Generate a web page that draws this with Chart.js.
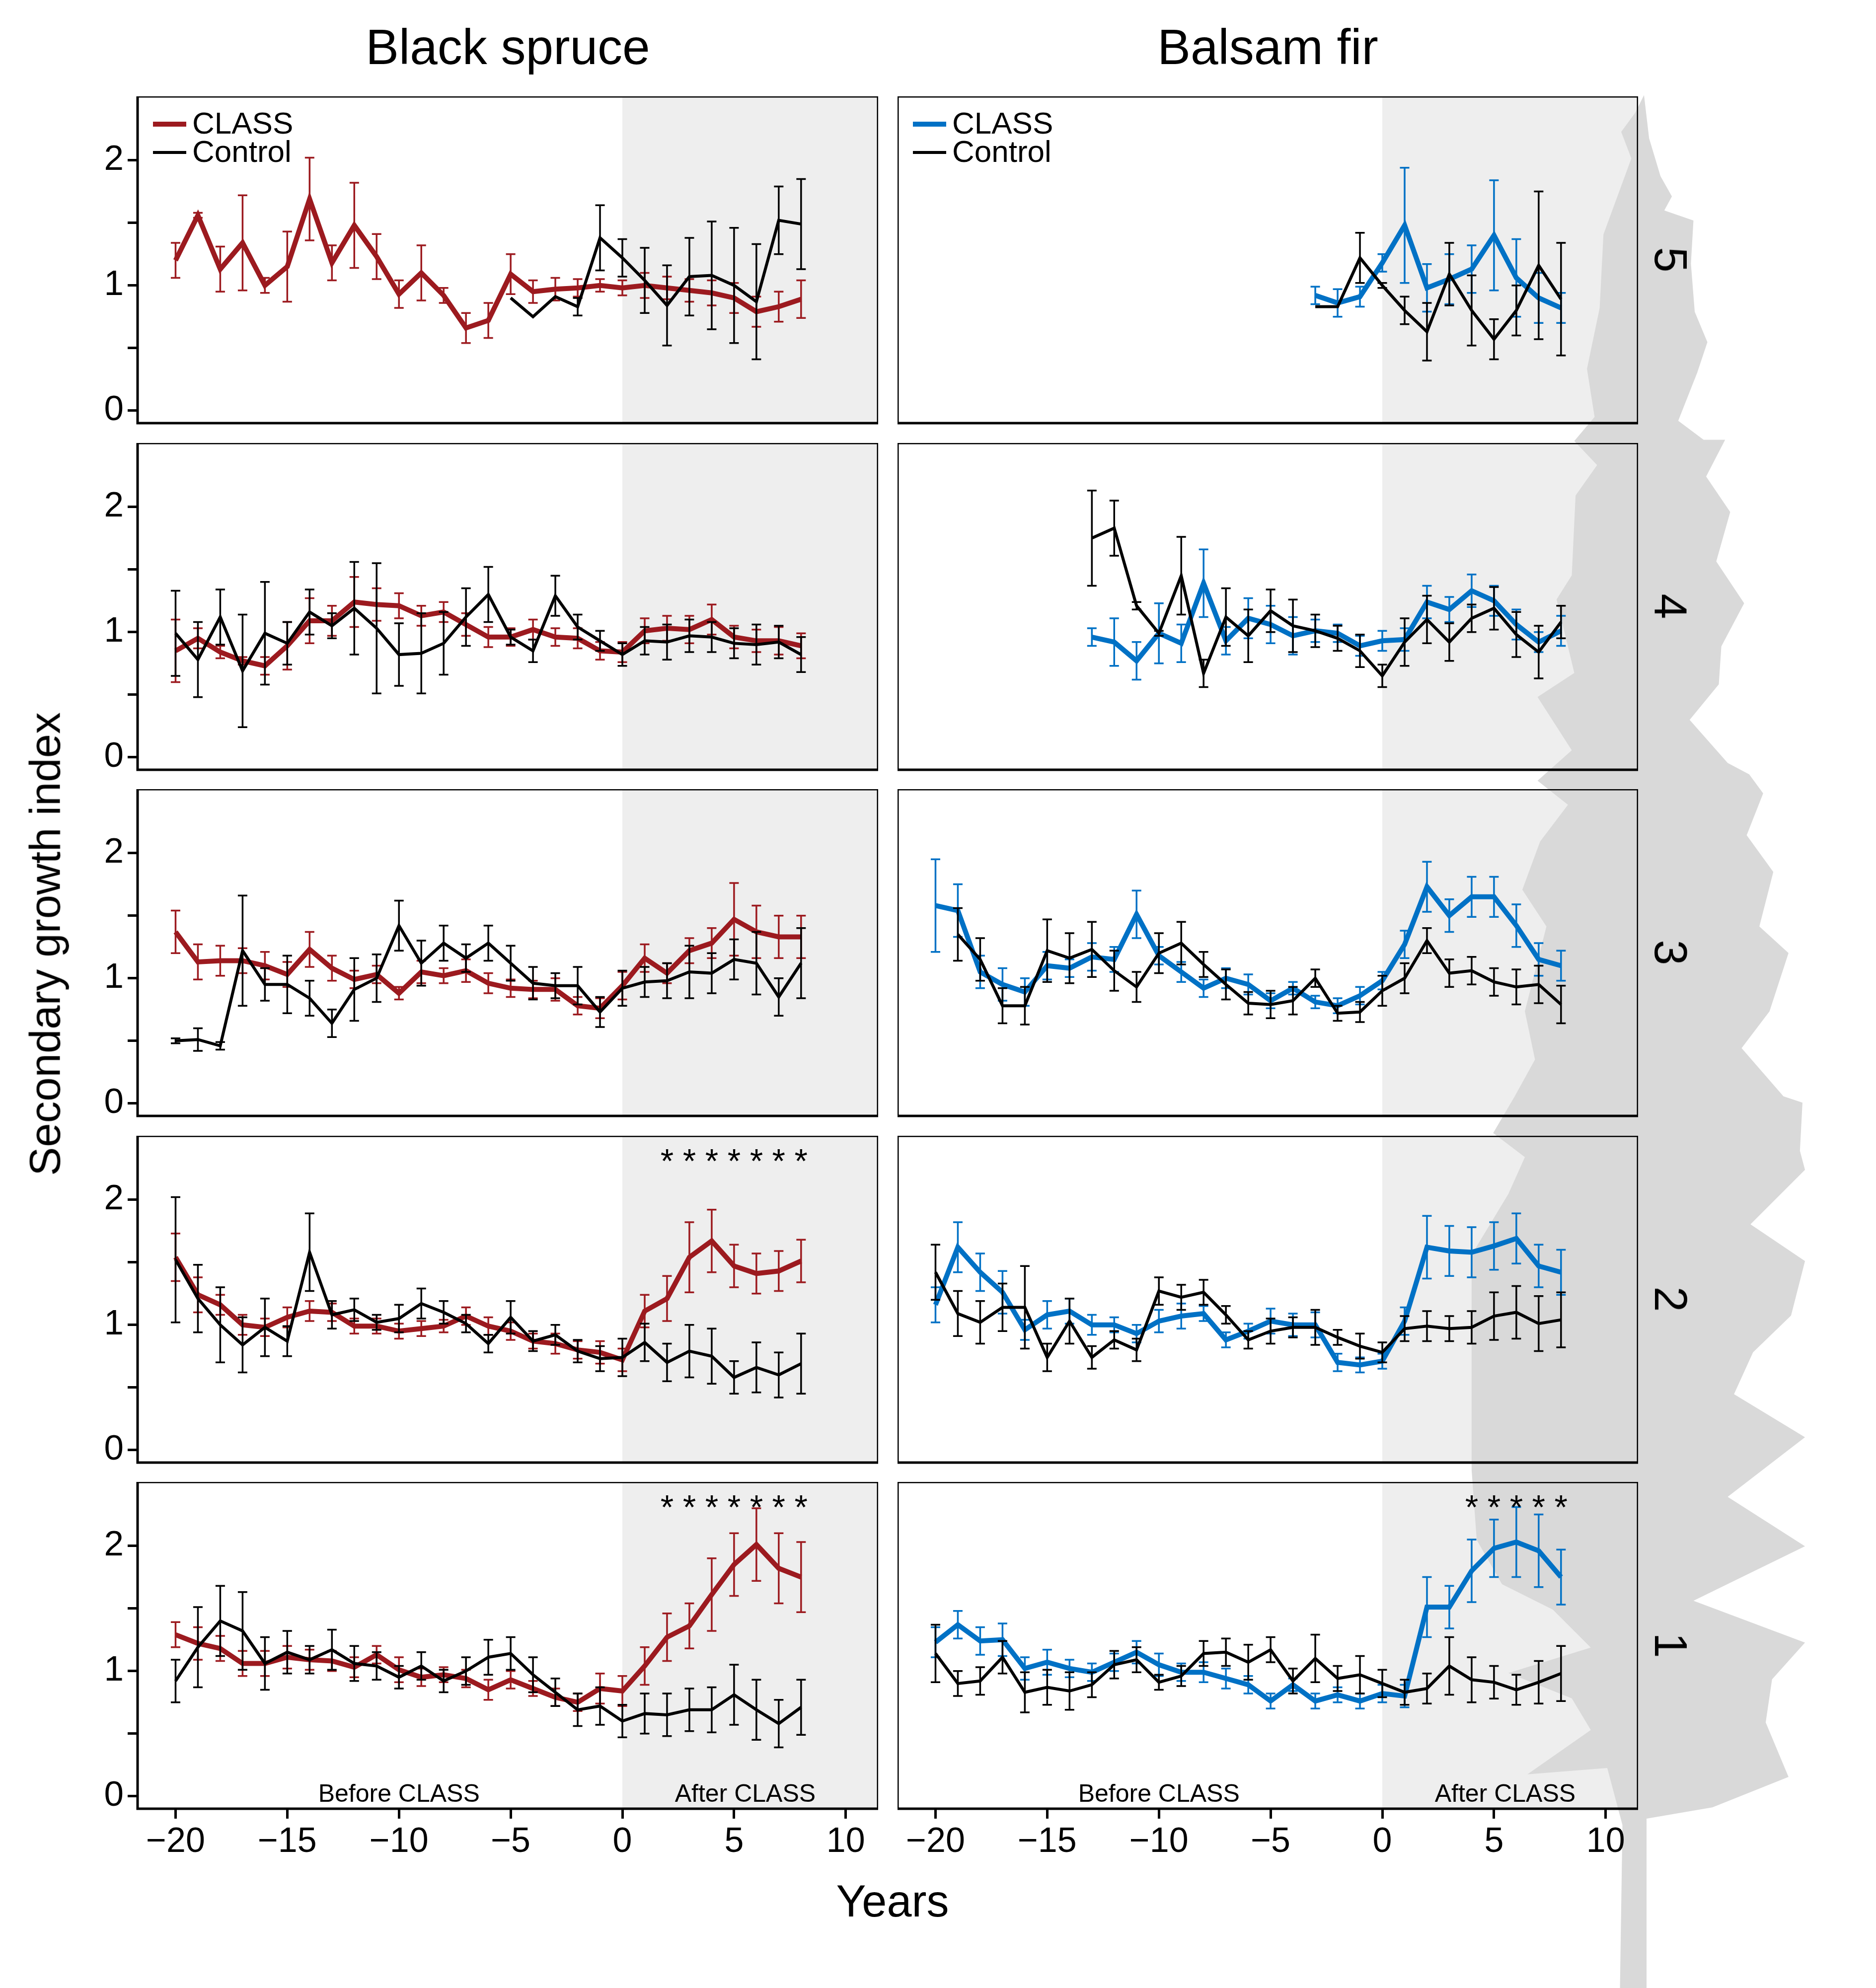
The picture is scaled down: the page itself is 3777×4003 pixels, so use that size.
<!DOCTYPE html>
<html>
<head>
<meta charset="utf-8">
<title>Secondary growth index</title>
<script src="https://cdn.jsdelivr.net/npm/chart.js@4.4.1/dist/chart.umd.min.js"></script>
<style>
html,body{margin:0;padding:0;background:#fff;}
#page{position:relative;width:3777px;height:4003px;overflow:hidden;font-family:'Liberation Sans',Arial,Helvetica,sans-serif;color:#000;}
#page canvas{position:absolute;}
.lbl{position:absolute;white-space:nowrap;line-height:1;transform:translate(-50%,-50%);}
</style>
</head>
<body>
<div id="page">
<canvas id="bg" width="3777" height="4003" style="left:0;top:0"></canvas>
</div>
<script>
// years relative to the CLASS treatment
var years = [-20,-19,-18,-17,-16,-15,-14,-13,-12,-11,-10,-9,-8,-7,-6,-5,-4,-3,-2,-1,0,1,2,3,4,5,6,7,8];
var xTicks = [-20,-15,-10,-5,0,5,10];
var yTicks = [0,0.5,1,1.5,2];
var colTitles = ['Black spruce','Balsam fir'];
var rowLabels = ['5','4','3','2','1'];
var seriesNames = ['CLASS','Control'];

// black spruce, level 5
var bs5Class   = [1.20,1.56,1.13,1.34,1.00,1.15,1.69,1.18,1.48,1.23,0.93,1.10,0.92,0.66,0.72,1.09,0.95,0.97,0.98,1.00,0.98,1.00,0.98,0.96,0.94,0.90,0.79,0.83,0.89];
var bs5ClassSe = [0.14,0.02,0.18,0.38,0.06,0.28,0.33,0.14,0.34,0.18,0.11,0.22,0.06,0.12,0.14,0.16,0.09,0.09,0.07,0.05,0.06,0.10,0.09,0.09,0.10,0.12,0.12,0.12,0.15];
var bs5Ctrl    = [null,null,null,null,null,null,null,null,null,null,null,null,null,null,null,0.90,0.75,0.91,0.83,1.38,1.22,1.04,0.84,1.07,1.08,1.00,0.87,1.52,1.49];
var bs5CtrlSe  = [null,null,null,null,null,null,null,null,null,null,null,null,null,null,null,0,0,0,0.07,0.26,0.15,0.26,0.32,0.31,0.43,0.46,0.46,0.27,0.36];
// balsam fir, level 5
var bf5Class   = [null,null,null,null,null,null,null,null,null,null,null,null,null,null,null,null,null,0.92,0.86,0.91,1.18,1.48,0.98,1.05,1.13,1.40,1.06,0.90,0.82];
var bf5ClassSe = [null,null,null,null,null,null,null,null,null,null,null,null,null,null,null,null,null,0.07,0.11,0.08,0.07,0.46,0.19,0.20,0.19,0.44,0.31,0.20,0.12];
var bf5Ctrl    = [null,null,null,null,null,null,null,null,null,null,null,null,null,null,null,null,null,0.83,0.83,1.22,1.00,0.80,0.63,1.09,0.80,0.57,0.80,1.16,0.89];
var bf5CtrlSe  = [null,null,null,null,null,null,null,null,null,null,null,null,null,null,null,null,null,0,0,0.20,0.02,0.11,0.23,0.25,0.28,0.16,0.20,0.59,0.45];
// black spruce, level 4
var bs4Class   = [0.85,0.95,0.84,0.77,0.73,0.89,1.09,1.09,1.24,1.22,1.21,1.13,1.16,1.06,0.96,0.96,1.02,0.96,0.95,0.85,0.84,1.01,1.03,1.02,1.10,0.96,0.93,0.93,0.89];
var bs4ClassSe = [0.25,0.08,0.05,0.03,0.07,0.19,0.18,0.12,0.20,0.13,0.10,0.08,0.08,0.09,0.08,0.07,0.08,0.07,0.08,0.07,0.08,0.10,0.10,0.11,0.12,0.09,0.09,0.11,0.10];
var bs4Ctrl    = [0.99,0.78,1.12,0.69,0.99,0.91,1.16,1.05,1.19,1.03,0.82,0.83,0.91,1.12,1.30,0.96,0.85,1.29,1.04,0.93,0.82,0.93,0.92,0.97,0.96,0.91,0.90,0.92,0.82];
var bs4CtrlSe  = [0.34,0.30,0.22,0.45,0.41,0.17,0.18,0.10,0.37,0.52,0.25,0.32,0.25,0.23,0.22,0.06,0.09,0.16,0.10,0.08,0.09,0.11,0.14,0.13,0.12,0.12,0.16,0.13,0.14];
// balsam fir, level 4
var bf4Class   = [null,null,null,null,null,null,null,0.96,0.92,0.77,0.99,0.91,1.39,0.93,1.11,1.06,0.97,1.01,0.99,0.89,0.93,0.94,1.24,1.18,1.33,1.25,1.06,0.92,1.01];
var bf4ClassSe = [null,null,null,null,null,null,null,0.07,0.19,0.15,0.24,0.15,0.27,0.11,0.16,0.15,0.15,0.09,0.07,0.08,0.08,0.09,0.13,0.10,0.13,0.12,0.12,0.08,0.12];
var bf4Ctrl    = [null,null,null,null,null,null,null,1.75,1.83,1.21,0.99,1.45,0.67,1.12,0.97,1.17,1.05,1.01,0.95,0.85,0.65,0.92,1.10,0.92,1.11,1.19,0.98,0.84,1.08];
var bf4CtrlSe  = [null,null,null,null,null,null,null,0.38,0.22,0.03,0.02,0.31,0.11,0.23,0.21,0.17,0.21,0.13,0.10,0.13,0.09,0.19,0.19,0.15,0.11,0.17,0.18,0.21,0.13];
// black spruce, level 3
var bs3Class   = [1.37,1.13,1.14,1.14,1.10,1.03,1.23,1.08,0.99,1.03,0.88,1.05,1.02,1.06,0.96,0.92,0.91,0.91,0.78,0.76,0.94,1.16,1.04,1.22,1.28,1.47,1.37,1.33,1.33];
var bs3ClassSe = [0.17,0.14,0.12,0.10,0.11,0.10,0.14,0.10,0.07,0.07,0.05,0.09,0.06,0.09,0.08,0.07,0.07,0.09,0.07,0.08,0.11,0.11,0.08,0.10,0.12,0.29,0.21,0.17,0.17];
var bs3Ctrl    = [0.50,0.51,0.46,1.22,0.95,0.95,0.84,0.64,0.91,1.00,1.42,1.12,1.28,1.16,1.28,1.12,0.96,0.94,0.94,0.73,0.92,0.97,0.98,1.05,1.04,1.15,1.12,0.85,1.12];
var bs3CtrlSe  = [0.02,0.09,0.03,0.44,0.13,0.23,0.14,0.11,0.25,0.19,0.20,0.18,0.14,0.11,0.14,0.14,0.13,0.10,0.15,0.12,0.14,0.12,0.14,0.21,0.16,0.16,0.25,0.15,0.28];
// balsam fir, level 3
var bf3Class   = [1.58,1.54,1.05,0.95,0.89,1.10,1.08,1.17,1.15,1.51,1.18,1.05,0.92,1.00,0.95,0.82,0.92,0.81,0.78,0.86,0.98,1.27,1.73,1.50,1.65,1.65,1.42,1.15,1.10];
var bf3ClassSe = [0.37,0.21,0.13,0.13,0.11,0.11,0.07,0.11,0.10,0.19,0.07,0.08,0.07,0.08,0.08,0.06,0.05,0.05,0.06,0.07,0.07,0.11,0.20,0.13,0.16,0.16,0.17,0.13,0.12];
var bf3Ctrl    = [null,1.35,1.15,0.78,0.78,1.22,1.16,1.23,1.06,0.93,1.20,1.28,1.11,0.95,0.80,0.79,0.82,1.00,0.72,0.73,0.90,1.00,1.30,1.04,1.06,0.97,0.93,0.95,0.79];
var bf3CtrlSe  = [null,0.21,0.17,0.14,0.15,0.25,0.20,0.22,0.16,0.12,0.16,0.17,0.10,0.12,0.09,0.11,0.11,0.07,0.06,0.08,0.12,0.12,0.10,0.11,0.11,0.11,0.14,0.15,0.15];
// black spruce, level 2
var bs2Class   = [1.54,1.24,1.16,1.00,0.98,1.06,1.11,1.10,0.99,0.99,0.95,0.97,0.99,1.07,0.99,0.95,0.87,0.85,0.80,0.78,0.72,1.11,1.21,1.54,1.67,1.47,1.41,1.43,1.51];
var bs2ClassSe = [0.19,0.14,0.08,0.08,0.07,0.08,0.08,0.07,0.06,0.06,0.06,0.06,0.05,0.07,0.07,0.07,0.06,0.08,0.07,0.09,0.09,0.13,0.18,0.28,0.25,0.17,0.16,0.16,0.17];
var bs2Ctrl    = [1.52,1.21,1.00,0.84,0.98,0.87,1.58,1.08,1.12,1.02,1.05,1.17,1.10,1.01,0.85,1.06,0.87,0.92,0.79,0.73,0.74,0.86,0.70,0.79,0.75,0.58,0.66,0.60,0.69];
var bs2CtrlSe  = [0.50,0.27,0.30,0.22,0.23,0.12,0.31,0.11,0.09,0.06,0.11,0.12,0.09,0.07,0.07,0.13,0.08,0.08,0.09,0.10,0.15,0.15,0.15,0.21,0.22,0.13,0.20,0.18,0.24];
// balsam fir, level 2
var bf2Class   = [1.16,1.62,1.42,1.26,0.96,1.08,1.11,1.00,1.00,0.93,1.03,1.07,1.09,0.88,0.95,1.03,1.00,1.00,0.70,0.68,0.71,1.03,1.62,1.59,1.58,1.63,1.69,1.47,1.42];
var bf2ClassSe = [0.14,0.20,0.15,0.17,0.08,0.11,0.10,0.08,0.06,0.07,0.09,0.10,0.06,0.06,0.06,0.10,0.09,0.10,0.07,0.06,0.06,0.11,0.25,0.20,0.20,0.19,0.20,0.17,0.18];
var bf2Ctrl    = [1.42,1.09,1.02,1.14,1.14,0.74,1.03,0.74,0.88,0.80,1.27,1.22,1.26,1.08,0.88,0.95,0.98,0.98,0.90,0.83,0.78,0.97,0.99,0.97,0.98,1.07,1.10,1.01,1.04];
var bf2CtrlSe  = [0.22,0.18,0.17,0.19,0.33,0.11,0.18,0.09,0.07,0.09,0.11,0.10,0.10,0.07,0.07,0.10,0.08,0.14,0.06,0.10,0.08,0.10,0.12,0.10,0.13,0.19,0.21,0.22,0.22];
// black spruce, level 1
var bs1Class   = [1.29,1.22,1.18,1.06,1.06,1.11,1.09,1.08,1.03,1.13,1.01,0.95,0.97,0.94,0.85,0.93,0.86,0.79,0.75,0.86,0.84,1.04,1.27,1.36,1.61,1.85,2.01,1.82,1.75];
var bs1ClassSe = [0.10,0.13,0.10,0.10,0.10,0.09,0.08,0.08,0.08,0.07,0.10,0.07,0.06,0.07,0.08,0.07,0.06,0.07,0.07,0.12,0.12,0.15,0.19,0.18,0.29,0.25,0.29,0.28,0.28];
var bs1Ctrl    = [0.92,1.19,1.40,1.32,1.06,1.15,1.09,1.17,1.06,1.04,0.95,1.04,0.92,1.00,1.11,1.14,0.97,0.83,0.69,0.72,0.60,0.66,0.65,0.69,0.69,0.81,0.69,0.58,0.71];
var bs1CtrlSe  = [0.17,0.32,0.28,0.31,0.21,0.17,0.11,0.16,0.14,0.11,0.09,0.11,0.09,0.11,0.14,0.13,0.14,0.11,0.13,0.15,0.13,0.16,0.17,0.17,0.18,0.24,0.24,0.19,0.22];
// balsam fir, level 1
var bf1Class   = [1.23,1.37,1.24,1.25,1.02,1.07,1.02,0.99,1.07,1.15,1.05,0.99,0.99,0.94,0.89,0.76,0.89,0.76,0.81,0.76,0.82,0.80,1.51,1.51,1.80,1.98,2.03,1.96,1.75];
var bf1ClassSe = [0.12,0.11,0.11,0.13,0.09,0.10,0.07,0.07,0.07,0.09,0.09,0.07,0.08,0.08,0.07,0.06,0.05,0.06,0.06,0.06,0.07,0.09,0.24,0.17,0.25,0.23,0.28,0.29,0.22];
var bf1Ctrl    = [1.14,0.90,0.92,1.11,0.83,0.87,0.84,0.89,1.05,1.09,0.91,0.96,1.14,1.15,1.07,1.17,0.92,1.10,0.94,0.97,0.90,0.83,0.86,1.04,0.93,0.91,0.85,0.91,0.98];
var bf1CtrlSe  = [0.23,0.10,0.11,0.13,0.16,0.14,0.15,0.10,0.11,0.10,0.06,0.08,0.10,0.11,0.14,0.10,0.10,0.19,0.10,0.15,0.11,0.10,0.12,0.23,0.18,0.13,0.12,0.17,0.22];

// years with a significant CLASS vs control difference
var bs5Stars = [], bf5Stars = [], bs4Stars = [], bf4Stars = [], bs3Stars = [], bf3Stars = [];
var bs2Stars = [2,3,4,5,6,7,8], bf2Stars = [];
var bs1Stars = [2,3,4,5,6,7,8], bf1Stars = [4,5,6,7,8];

var panels = [
  {col:0,row:0,cls:bs5Class,clsSe:bs5ClassSe,ctl:bs5Ctrl,ctlSe:bs5CtrlSe,stars:bs5Stars},
  {col:1,row:0,cls:bf5Class,clsSe:bf5ClassSe,ctl:bf5Ctrl,ctlSe:bf5CtrlSe,stars:bf5Stars},
  {col:0,row:1,cls:bs4Class,clsSe:bs4ClassSe,ctl:bs4Ctrl,ctlSe:bs4CtrlSe,stars:bs4Stars},
  {col:1,row:1,cls:bf4Class,clsSe:bf4ClassSe,ctl:bf4Ctrl,ctlSe:bf4CtrlSe,stars:bf4Stars},
  {col:0,row:2,cls:bs3Class,clsSe:bs3ClassSe,ctl:bs3Ctrl,ctlSe:bs3CtrlSe,stars:bs3Stars},
  {col:1,row:2,cls:bf3Class,clsSe:bf3ClassSe,ctl:bf3Ctrl,ctlSe:bf3CtrlSe,stars:bf3Stars},
  {col:0,row:3,cls:bs2Class,clsSe:bs2ClassSe,ctl:bs2Ctrl,ctlSe:bs2CtrlSe,stars:bs2Stars},
  {col:1,row:3,cls:bf2Class,clsSe:bf2ClassSe,ctl:bf2Ctrl,ctlSe:bf2CtrlSe,stars:bf2Stars},
  {col:0,row:4,cls:bs1Class,clsSe:bs1ClassSe,ctl:bs1Ctrl,ctlSe:bs1CtrlSe,stars:bs1Stars},
  {col:1,row:4,cls:bf1Class,clsSe:bf1ClassSe,ctl:bf1Ctrl,ctlSe:bf1CtrlSe,stars:bf1Stars}
];

// layout (page pixels)
var colLeft = [277, 1807];
var rowTop = [194, 892, 1589, 2287, 2984];
var panelW = 1491, panelH = 658;
var yAxisW = 190, xAxisH = 150, padBottom = 24;
var xMin = -21.7, xMax = 11.45, yMin = -0.1, yMax = 2.51;
var classColors = ['#9c1a1f', '#0071c5'];
var ctrlColor = '#000000';
var shadeColor = '#eeeeee';
var treeColor = '#d9d9d9';
var FONT = "'Liberation Sans', Arial, Helvetica, sans-serif";

// tree silhouette behind the right column, outline in 1/2.552 page units
var treeScale = 2.552;
var treeOutline = [
  [1297,75],[1301,109],[1310,139],[1319,155],[1313,166],[1336,174],[1334,208],[1337,246],[1347,270],
  [1339,294],[1324,332],[1344,347],[1361,347],[1346,376],[1365,404],[1354,443],[1376,476],[1358,510],
  [1356,540],[1333,568],[1363,602],[1380,611],[1391,626],[1378,659],[1399,688],[1388,731],[1411,752],
  [1396,798],[1374,827],[1407,865],[1422,870],[1420,908],[1424,923],[1381,966],[1424,995],[1413,1038],
  [1383,1067],[1368,1100],[1424,1134],[1363,1181],[1424,1220],[1336,1263],[1424,1296],[1398,1325],
  [1393,1359],[1411,1402],[1351,1426],[1299,1435],[1299,1570],
  [1278,1570],[1280,1440],[1268,1395],[1205,1400],[1255,1365],[1240,1340],[1190,1320],[1255,1300],
  [1225,1270],[1185,1250],[1165,1215],[1161,1160],[1161,990],[1190,942],[1203,913],[1178,894],
  [1195,865],[1211,836],[1203,798],[1220,731],[1201,702],[1215,664],[1237,635],[1213,616],[1240,592],
  [1213,550],[1242,531],[1228,473],[1240,454],[1243,391],[1260,367],[1242,348],[1258,329],[1252,291],
  [1262,243],[1265,185],[1287,125],[1279,104],[1290,89]
];

function traceTree(ctx) {
  ctx.beginPath();
  for (var i = 0; i < treeOutline.length; i++) {
    var px = treeOutline[i][0] * treeScale, py = treeOutline[i][1] * treeScale;
    if (i == 0) ctx.moveTo(px, py); else ctx.lineTo(px, py);
  }
  ctx.closePath();
}

var bg = document.getElementById('bg').getContext('2d');
traceTree(bg);
bg.fillStyle = treeColor;
bg.fill();

function tickText(v) {
  return v < 0 ? '\u2212' + Math.abs(v) : String(v);
}

var panelDeco = {
  id: 'panelDeco',
  beforeDraw: function (chart, args, o) {
    var ctx = chart.ctx, a = chart.chartArea;
    var x0 = chart.scales.x.getPixelForValue(0);
    ctx.save();
    ctx.fillStyle = shadeColor;
    ctx.fillRect(x0, a.top, a.right - x0, a.bottom - a.top);
    ctx.beginPath();
    ctx.rect(a.left, a.top, a.right - a.left, a.bottom - a.top);
    ctx.clip();
    ctx.translate(-o.left, -o.top);
    traceTree(ctx);
    ctx.fillStyle = treeColor;
    ctx.fill();
    ctx.restore();
  },
  beforeDatasetDraw: function (chart, args) {
    var ds = chart.data.datasets[args.index];
    var ctx = chart.ctx, xs = chart.scales.x, ys = chart.scales.y;
    var cap = 9.5;
    ctx.save();
    ctx.strokeStyle = ds.borderColor;
    ctx.lineWidth = 3.5;
    ctx.beginPath();
    for (var i = 0; i < ds.data.length; i++) {
      var p = ds.data[i], s = ds.errors[i];
      if (p.y == null || s == null || s <= 0) continue;
      var px = xs.getPixelForValue(p.x);
      var hi = ys.getPixelForValue(p.y + s), lo = ys.getPixelForValue(p.y - s);
      ctx.moveTo(px, hi); ctx.lineTo(px, lo);
      ctx.moveTo(px - cap, hi); ctx.lineTo(px + cap, hi);
      ctx.moveTo(px - cap, lo); ctx.lineTo(px + cap, lo);
    }
    ctx.stroke();
    ctx.restore();
  },
  afterDraw: function (chart, args, o) {
    var ctx = chart.ctx, a = chart.chartArea, xs = chart.scales.x, ys = chart.scales.y;
    ctx.save();
    ctx.fillStyle = '#000';
    // significance stars
    ctx.font = '68px ' + FONT;
    ctx.textAlign = 'center';
    ctx.textBaseline = 'alphabetic';
    for (var i = 0; i < o.stars.length; i++) {
      ctx.fillText('*', xs.getPixelForValue(o.stars[i]), ys.getPixelForValue(2.37) + 39);
    }
    // period labels on the bottom row
    if (o.bottom) {
      ctx.font = '50px ' + FONT;
      ctx.textBaseline = 'middle';
      ctx.fillText('Before CLASS', xs.getPixelForValue(-10), ys.getPixelForValue(0.01));
      ctx.fillText('After CLASS', xs.getPixelForValue(5.5), ys.getPixelForValue(0.01));
    }
    // legend on the top row
    if (o.legend) {
      var dsets = chart.data.datasets;
      var widths = [10, 6];
      ctx.font = '62px ' + FONT;
      ctx.textAlign = 'left';
      ctx.textBaseline = 'middle';
      for (var k = 0; k < 2; k++) {
        var ly = a.top + 56 + k * 57;
        ctx.strokeStyle = dsets[k].borderColor;
        ctx.lineWidth = widths[k];
        ctx.beginPath();
        ctx.moveTo(a.left + 31, ly);
        ctx.lineTo(a.left + 98, ly);
        ctx.stroke();
        ctx.fillText(dsets[k].label, a.left + 110, ly + 2);
      }
    }
    // panel frame
    ctx.strokeStyle = '#000';
    ctx.lineWidth = 5;
    ctx.strokeRect(a.left, a.top, a.right - a.left, a.bottom - a.top);
    ctx.restore();
  }
};

Chart.defaults.font.family = FONT;
Chart.defaults.color = '#000';

var page = document.getElementById('page');

panels.forEach(function (p) {
  var isLeft = p.col == 0, isBottom = p.row == rowTop.length - 1;
  var left = colLeft[p.col] - (isLeft ? yAxisW : 0);
  var top = rowTop[p.row];
  var w = panelW + (isLeft ? yAxisW : 0);
  var h = panelH + (isBottom ? xAxisH : padBottom);
  var cv = document.createElement('canvas');
  cv.width = w; cv.height = h;
  cv.style.left = left + 'px';
  cv.style.top = top + 'px';
  page.appendChild(cv);

  var clsPts = years.map(function (yr, i) { return {x: yr, y: p.cls[i]}; });
  var ctlPts = years.map(function (yr, i) { return {x: yr, y: p.ctl[i]}; });

  new Chart(cv, {
    type: 'line',
    data: {
      datasets: [{
        label: seriesNames[0],
        data: clsPts,
        errors: p.clsSe,
        borderColor: classColors[p.col],
        borderWidth: 10,
        order: 1
      }, {
        label: seriesNames[1],
        data: ctlPts,
        errors: p.ctlSe,
        borderColor: ctrlColor,
        borderWidth: 6,
        order: 0
      }]
    },
    options: {
      responsive: false,
      animation: false,
      devicePixelRatio: 1,
      events: [],
      spanGaps: false,
      elements: {
        point: {radius: 0},
        line: {tension: 0, borderJoinStyle: 'miter', borderCapStyle: 'butt', fill: false}
      },
      layout: {padding: {left: 0, right: 0, top: 0, bottom: isBottom ? 0 : padBottom}},
      scales: {
        x: {
          type: 'linear',
          min: xMin, max: xMax,
          display: isBottom,
          afterBuildTicks: function (s) { s.ticks = xTicks.map(function (v) { return {value: v}; }); },
          afterFit: function (s) { if (isBottom) { s.height = xAxisH; s.paddingLeft = 0; s.paddingRight = 0; } },
          grid: {drawOnChartArea: false, drawTicks: true, tickLength: 20, tickWidth: 5, tickColor: '#000', color: '#000', lineWidth: 5},
          border: {display: false},
          ticks: {font: {size: 70}, color: '#000', padding: 6, maxRotation: 0, autoSkip: false,
                  callback: function (v) { return tickText(v); }}
        },
        y: {
          type: 'linear',
          min: yMin, max: yMax,
          display: isLeft,
          afterBuildTicks: function (s) { s.ticks = yTicks.map(function (v) { return {value: v}; }); },
          afterFit: function (s) { if (isLeft) { s.width = yAxisW; s.paddingTop = 0; s.paddingBottom = 0; } },
          grid: {drawOnChartArea: false, drawTicks: true, tickLength: 20, tickWidth: 5, tickColor: '#000', color: '#000', lineWidth: 5},
          border: {display: false},
          ticks: {font: {size: 71}, color: '#000', padding: 8, autoSkip: false,
                  callback: function (v) { return Number.isInteger(v) ? String(v) : ''; }}
        }
      },
      plugins: {
        legend: {display: false},
        tooltip: {enabled: false},
        panelDeco: {left: left, top: top, stars: p.stars, bottom: isBottom, legend: p.row == 0}
      }
    },
    plugins: [panelDeco]
  });
});

// text around the panels
function addLabel(text, x, y, size, rot) {
  var d = document.createElement('div');
  d.className = 'lbl';
  d.textContent = text;
  d.style.left = x + 'px';
  d.style.top = y + 'px';
  d.style.fontSize = size + 'px';
  d.style.transform = 'translate(-50%,-50%)' + (rot ? ' rotate(' + rot + 'deg)' : '');
  page.appendChild(d);
}
colTitles.forEach(function (t, c) { addLabel(t, colLeft[c] + panelW / 2, 94, 100, 0); });
rowLabels.forEach(function (t, r) { addLabel(t, 3364, rowTop[r] + panelH / 2, 92, 90); });
addLabel('Years', 1797, 3828, 90, 0);
addLabel('Secondary growth index', 90, 1901, 87, -90);
</script>
</body>
</html>
